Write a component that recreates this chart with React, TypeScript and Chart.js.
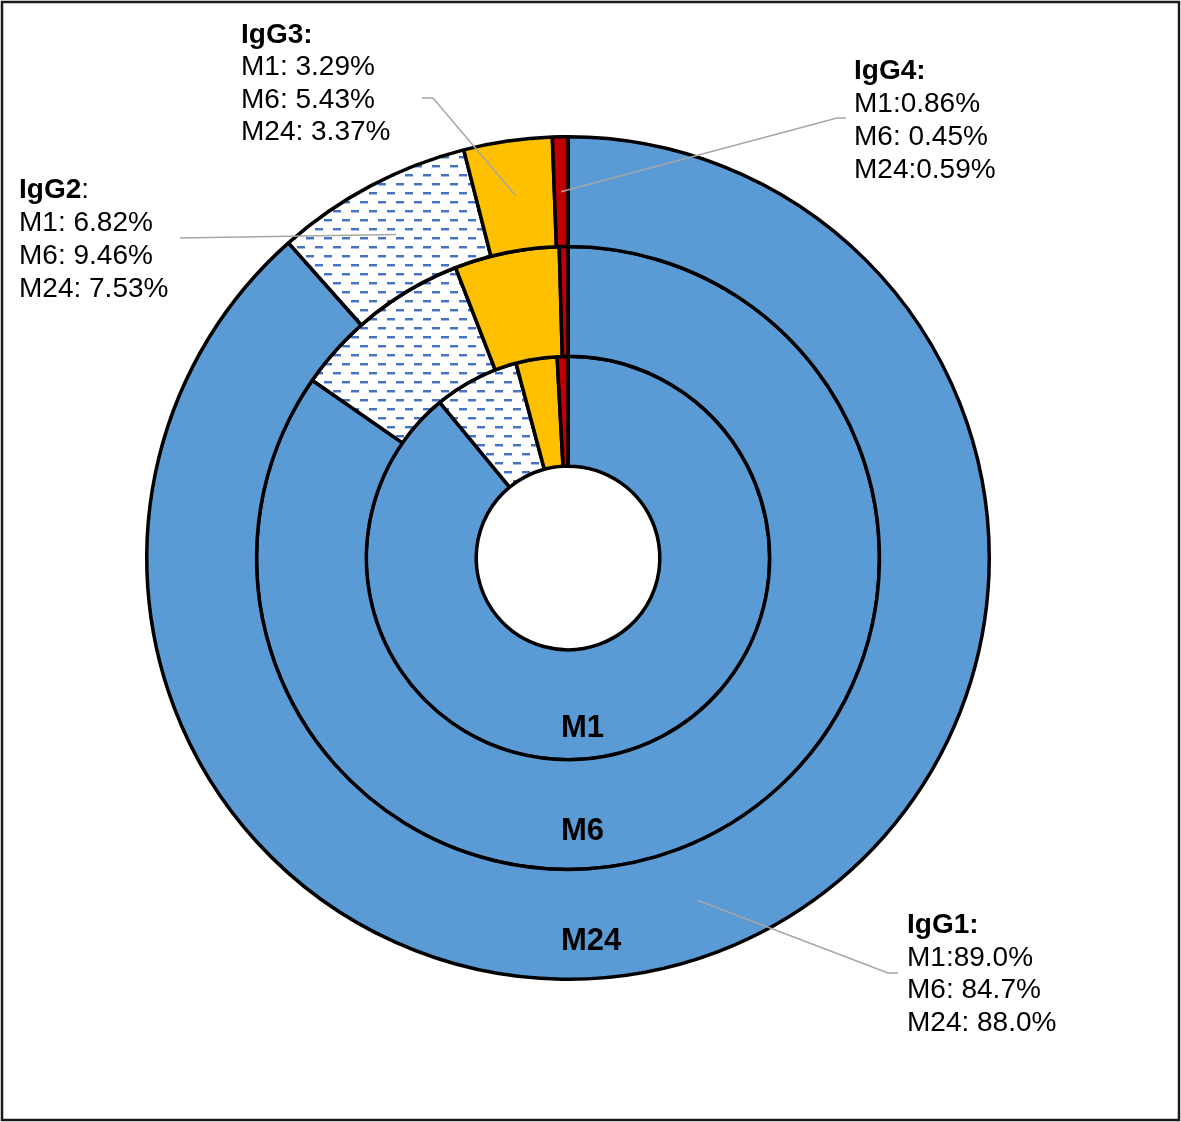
import React, { useEffect, useRef } from "react";
import { Chart, registerables } from "chart.js";

Chart.register(...registerables);

const subclasses = ["IgG1", "IgG2", "IgG3", "IgG4"];
const ringNames = ["M24", "M6", "M1"]; // outer -> inner
const m24Values = [88.0, 7.53, 3.37, 0.59];
const m6Values = [84.7, 9.46, 5.43, 0.45];
const m1Values = [89.0, 6.82, 3.29, 0.86];

const labelLines: string[][] = [
  ["M1:89.0%", "M6: 84.7%", "M24: 88.0%"],
  ["M1: 6.82%", "M6: 9.46%", "M24: 7.53%"],
  ["M1: 3.29%", "M6: 5.43%", "M24: 3.37%"],
  ["M1:0.86%", "M6: 0.45%", "M24:0.59%"],
];

const W = 1181;
const H = 1122;

// label block layout: [x, first baseline, line step]
const labelLayout = [
  { x: 907, y: 933, step: 32.7, colonBold: true },
  { x: 19, y: 198, step: 33, colonBold: false },
  { x: 241, y: 43, step: 32.3, colonBold: true },
  { x: 854, y: 79, step: 33, colonBold: true },
];
// leader line path after the arc centroid
const leaderPaths: number[][][] = [
  [[888, 973], [898, 973]],
  [[180, 238]],
  [[433, 98], [422, 98]],
  [[837, 118], [846, 118]],
];

const FONT = "'Liberation Sans', Arial, sans-serif";

export default function App() {
  const ref = useRef<HTMLCanvasElement | null>(null);

  useEffect(() => {
    const canvas = ref.current!;
    const ctx = canvas.getContext("2d")!;

    const tile = document.createElement("canvas");
    tile.width = 18;
    tile.height = 18;
    const t = tile.getContext("2d")!;
    t.fillStyle = "#ffffff";
    t.fillRect(0, 0, 18, 18);
    t.fillStyle = "#4472C4";
    t.fillRect(0, 3, 8, 2);
    t.fillRect(9, 12, 8, 2);
    t.fillStyle = "#A9BEE6";
    t.fillRect(0, 5, 8, 1);
    t.fillRect(9, 14, 8, 1);
    const pattern = ctx.createPattern(tile, "repeat")!;

    const colors = ["#5B9BD5", pattern, "#FFC000", "#C00000"];

    const overlay = {
      id: "overlay",
      afterDraw(chart: any) {
        const c = chart.ctx;
        const meta = chart.getDatasetMeta(0);
        c.save();
        // leader lines
        c.strokeStyle = "#A6A6A6";
        c.lineWidth = 1.5;
        meta.data.forEach((arc: any, i: number) => {
          const p = arc.tooltipPosition();
          c.beginPath();
          c.moveTo(p.x, p.y);
          leaderPaths[i].forEach(([x, y]) => c.lineTo(x, y));
          c.stroke();
        });
        // labels
        c.fillStyle = "#000";
        c.textBaseline = "alphabetic";
        c.textAlign = "left";
        subclasses.forEach((name, i) => {
          const L = labelLayout[i];
          c.font = `bold 28px ${FONT}`;
          c.fillText(name, L.x, L.y);
          const w = c.measureText(name).width;
          c.font = `${L.colonBold ? "bold " : ""}28px ${FONT}`;
          c.fillText(":", L.x + w, L.y);
          c.font = `28px ${FONT}`;
          labelLines[i].forEach((line, k) => {
            c.fillText(line, L.x, L.y + L.step * (k + 1));
          });
        });
        // ring names
        const a0 = meta.data[0];
        const cx = a0.x;
        const cy = a0.y;
        c.font = `bold 31px ${FONT}`;
        const ringBaselines = [392, 282, 179];
        ringNames.forEach((n, i) => {
          c.fillText(n, cx - 7, cy + ringBaselines[i]);
        });
        // frame
        c.strokeStyle = "#1a1a1a";
        c.lineWidth = 2.5;
        c.strokeRect(2, 2, W - 4, H - 4);
        c.restore();
      },
    };

    const chart = new Chart(canvas, {
      type: "doughnut",
      data: {
        labels: subclasses,
        datasets: [
          { label: ringNames[0], data: m24Values, backgroundColor: colors as any },
          { label: ringNames[1], data: m6Values, backgroundColor: colors as any },
          { label: ringNames[2], data: m1Values, backgroundColor: colors as any },
        ],
      },
      options: {
        responsive: false,
        animation: false,
        events: [],
        cutout: "21.8%",
        layout: { padding: { left: 145, top: 135, right: 190, bottom: 141 } },
        elements: {
          arc: { borderColor: "#000", borderWidth: 3.5, hoverOffset: 0 },
        },
        plugins: {
          legend: { display: false },
          tooltip: { enabled: false },
        },
      },
      plugins: [overlay],
    });
    return () => chart.destroy();
  }, []);

  return (
    <div style={{ position: "absolute", left: 0, top: 0, width: W, height: H, background: "#fff" }}>
      <canvas ref={ref} width={W} height={H} style={{ display: "block" }} />
    </div>
  );
}
